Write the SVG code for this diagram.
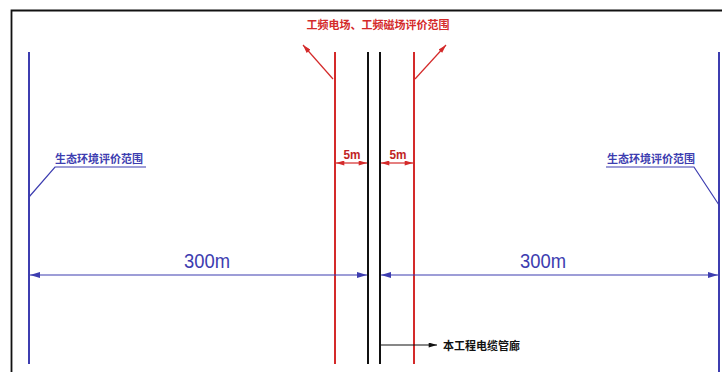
<svg xmlns="http://www.w3.org/2000/svg" width="722" height="372" viewBox="0 0 722 372">
<defs>
<style>
.blue{stroke:#3d3db0;stroke-width:2;fill:none}
.bluet{stroke:#3d3db0;stroke-width:1.2;fill:none}
.red{stroke:#d42a2a;stroke-width:2;fill:none}
.redt{stroke:#d42a2a;stroke-width:1.2;fill:none}
.blk{stroke:#111;stroke-width:2;fill:none}
.lbl{font-family:"Noto Sans CJK SC","Liberation Sans",sans-serif;font-weight:bold;font-size:11px}
.dim{font-family:"Liberation Sans",sans-serif;font-size:21px;fill:#3d3db0}
.dim5{font-family:"Liberation Sans",sans-serif;font-size:13px;fill:#c02424;font-weight:bold}
</style>
<marker id="ab" viewBox="0 0 10 6" refX="10" refY="3" markerWidth="10" markerHeight="6" markerUnits="userSpaceOnUse" orient="auto-start-reverse"><path d="M0,0 L10,3 L0,6 Z" fill="#3d3db0"/></marker>
<marker id="ar" viewBox="0 0 10 6" refX="10" refY="3" markerWidth="9" markerHeight="5" markerUnits="userSpaceOnUse" orient="auto-start-reverse"><path d="M0,0 L10,3 L0,6 Z" fill="#d42a2a"/></marker>
<marker id="ak" viewBox="0 0 10 6" refX="10" refY="3" markerWidth="9" markerHeight="5" markerUnits="userSpaceOnUse" orient="auto"><path d="M0,0 L10,3 L0,6 Z" fill="#111"/></marker>
</defs>
<rect width="722" height="372" fill="#fff"/>
<g id="frame">
<path d="M11.5,372 V10.5 H722" stroke="#111" stroke-width="1.8" fill="none"/>
</g>
<g id="eco-left">
<line class="blue" x1="29" y1="52" x2="29" y2="364"/>
<text class="lbl" x="55" y="163" fill="#3d3db0">生态环境评价范围</text>
</g>
<g id="eco-right">
<line class="blue" x1="719" y1="52" x2="719" y2="372"/>
<text class="lbl" x="607" y="163" fill="#3d3db0">生态环境评价范围</text>
</g>
<g id="emf-range">
<line class="red" x1="335" y1="52" x2="335" y2="364"/>
<line class="red" x1="414" y1="52" x2="414" y2="364"/>
<text class="lbl" x="378" y="29" fill="#d42a2a" text-anchor="middle">工频电场、工频磁场评价范围</text>
</g>
<g id="cable-gallery">
<line class="blk" x1="368" y1="52" x2="368" y2="364"/>
<line class="blk" x1="380" y1="52" x2="380" y2="364"/>
<text class="lbl" x="443" y="350" fill="#111" font-weight="normal">本工程电缆管廊</text>
</g>
<g id="dims">
<text class="dim5" x="352" y="159" text-anchor="middle" textLength="17" lengthAdjust="spacingAndGlyphs">5m</text>
<text class="dim5" x="398" y="159" text-anchor="middle" textLength="17" lengthAdjust="spacingAndGlyphs">5m</text>
<text class="dim" x="207" y="268" text-anchor="middle" textLength="46" lengthAdjust="spacingAndGlyphs">300m</text>
<text class="dim" x="543" y="268" text-anchor="middle" textLength="46" lengthAdjust="spacingAndGlyphs">300m</text>
</g>
<g id="connectors">
<path class="bluet" d="M29,197 L55,167 H146"/>
<path class="bluet" d="M719,205 L694,167 H606"/>
<line class="redt" x1="333" y1="79" x2="303" y2="45" marker-end="url(#ar)"/>
<line class="redt" x1="415" y1="79" x2="446" y2="45" marker-end="url(#ar)"/>
<line class="redt" x1="336" y1="163" x2="367" y2="163" marker-start="url(#ar)" marker-end="url(#ar)"/>
<line class="redt" x1="381" y1="163" x2="413" y2="163" marker-start="url(#ar)" marker-end="url(#ar)"/>
<line class="bluet" x1="30" y1="275" x2="367" y2="275" marker-start="url(#ab)" marker-end="url(#ab)"/>
<line class="bluet" x1="381" y1="275" x2="718" y2="275" marker-start="url(#ab)" marker-end="url(#ab)"/>
<line x1="381" y1="345" x2="437" y2="345" stroke="#111" stroke-width="1.2" marker-end="url(#ak)"/>
</g>
</svg>
